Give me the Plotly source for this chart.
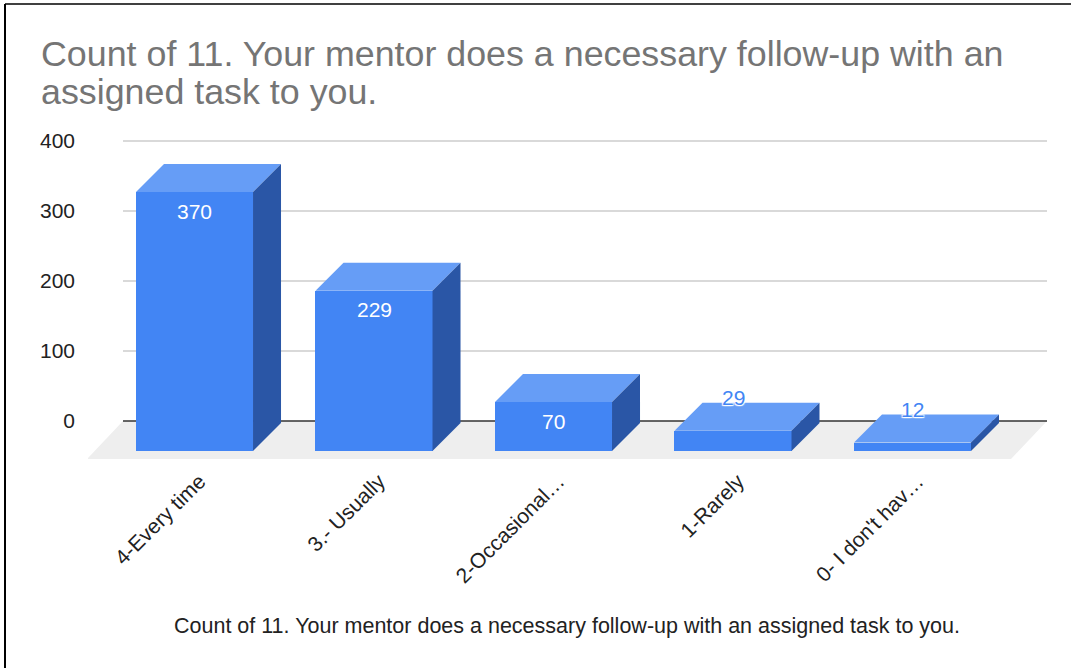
import plotly.graph_objects as go

# ---- data ----
categories = ["4-Every time", "3.- Usually", "2-Occasional…", "1-Rarely", "0- I don't hav…"]
counts = [370, 229, 70, 29, 12]
y_ticks = [0, 100, 200, 300, 400]
title_lines = ["Count of 11. Your mentor does a necessary follow-up with an",
               "assigned task to you."]
x_title = "Count of 11. Your mentor does a necessary follow-up with an assigned task to you."

# ---- geometry / style ----
W, H = 1071, 668
ML, MR, MT, MB = 88, 23, 137, 209
PX_PER_CAT = 179.5
PX_PER_UNIT = 0.7
BAR_W = 0.652
DX = 28 / PX_PER_CAT          # depth in category units
DY = 28 / PX_PER_UNIT         # depth in value units
SINK = 2 / PX_PER_UNIT        # bars sit slightly below the zero plane
FLOOR_DX = 36 / PX_PER_CAT
FLOOR_DY = 38 / PX_PER_UNIT
FONT = "Arial, Liberation Sans, sans-serif"

FRONT = "#4285F4"
TOP = "#669DF6"
SIDE = "#2A56A6"

plot_w = W - ML - MR
plot_h = H - MT - MB
x_left = -(194.5 - ML) / PX_PER_CAT
x_range = [x_left, x_left + plot_w / PX_PER_CAT]
y_bottom = -FLOOR_DY
y_range = [y_bottom, y_bottom + plot_h / PX_PER_UNIT]

xs = list(range(len(categories)))
back_left = xs[0] - (194.5 - 123) / PX_PER_CAT
back_right = xs[-1] + (1047 - 912.5) / PX_PER_CAT


def px_x(p):
    return (p - ML) / plot_w


def px_y(p):
    return (H - MB - p) / plot_h


fig = go.Figure()
fig.add_trace(go.Bar(
    x=xs, y=counts, base=[-DY - SINK] * len(counts), width=BAR_W,
    marker=dict(color=FRONT, line=dict(width=0)), hoverinfo="skip", showlegend=False,
))

shapes = []
# floor
shapes.append(dict(
    type="path", xref="x", yref="y", layer="below",
    path=f"M {back_left},0 L {back_right},0 L {back_right - FLOOR_DX},{-FLOOR_DY} L {back_left - FLOOR_DX},{-FLOOR_DY} Z",
    fillcolor="#eeeeee", line=dict(width=0),
))
# gridlines
for t in y_ticks:
    shapes.append(dict(
        type="line", xref="x", yref="y", layer="below",
        x0=back_left, x1=back_right, y0=t, y1=t,
        line=dict(color="#333333" if t == 0 else "#cccccc", width=1.5),
    ))
# bar top and side faces
for i, v in zip(xs, counts):
    x0, x1 = i - BAR_W / 2, i + BAR_W / 2
    fb, ft = -DY - SINK, v - DY - SINK      # front bottom / top
    bb, bt = -SINK, v - SINK                # back bottom / top
    shapes.append(dict(
        type="path", xref="x", yref="y", layer="above",
        path=f"M {x0},{ft} L {x1},{ft} L {x1 + DX},{bt} L {x0 + DX},{bt} Z",
        fillcolor=TOP, line=dict(width=0),
    ))
    shapes.append(dict(
        type="path", xref="x", yref="y", layer="above",
        path=f"M {x1},{fb} L {x1 + DX},{bb} L {x1 + DX},{bt} L {x1},{ft} Z",
        fillcolor=SIDE, line=dict(width=0),
    ))

# chart border (left and top)
shapes.append(dict(type="line", xref="paper", yref="paper",
                   x0=px_x(5), x1=px_x(5), y0=px_y(4), y1=px_y(H + 2),
                   line=dict(color="#000000", width=2)))
shapes.append(dict(type="line", xref="paper", yref="paper",
                   x0=px_x(5), x1=px_x(W + 2), y0=px_y(4), y1=px_y(4),
                   line=dict(color="#000000", width=1.5)))

annotations = []
halo = "1px 1px 1px #fff, -1px -1px 1px #fff, 1px -1px 1px #fff, -1px 1px 1px #fff, 0 0 2px #fff"
for i, v in zip(xs, counts):
    if v >= 50:
        annotations.append(dict(
            x=i, y=v - DY - SINK, xref="x", yref="y", text=str(v), showarrow=False,
            yanchor="middle", yshift=-19,
            font=dict(family=FONT, size=21, color="#ffffff"),
        ))
    else:
        annotations.append(dict(
            x=i, y=v - SINK, xref="x", yref="y", text=str(v), showarrow=False,
            yanchor="middle", yshift=5,
            font=dict(family=FONT, size=21, color=FRONT, shadow=halo),
        ))
# x axis title
annotations.append(dict(
    x=px_x(566.5), y=px_y(626), xref="paper", yref="paper", text=x_title, showarrow=False,
    yanchor="middle", xanchor="center",
    font=dict(family=FONT, size=21.5, color="#222222"),
))
# chart title (two lines, tight leading)
TITLE_SIZE = 35.8
for line, baseline in zip(title_lines, [66, 104]):
    annotations.append(dict(
        x=px_x(39), y=px_y(baseline - 0.3465 * TITLE_SIZE), xref="paper", yref="paper",
        text=line, showarrow=False, xanchor="left", yanchor="middle",
        font=dict(family=FONT, size=TITLE_SIZE, color="#757575"),
    ))

fig.update_layout(
    width=W, height=H,
    margin=dict(l=ML, r=MR, t=MT, b=MB, autoexpand=False),
    paper_bgcolor="#ffffff", plot_bgcolor="#ffffff",
    xaxis=dict(range=x_range, tickvals=xs, ticktext=categories, tickangle=-45,
               showgrid=False, zeroline=False, showline=False, ticks="",
               ticklabelstandoff=5, ticklabelshift=5,
               tickfont=dict(family=FONT, size=21, color="#222222")),
    yaxis=dict(range=y_range, tickvals=y_ticks, showgrid=False, zeroline=False,
               showline=False, ticks="", ticklabelstandoff=12,
               tickfont=dict(family=FONT, size=21, color="#222222")),
    shapes=shapes, annotations=annotations, bargap=0, showlegend=False,
)

fig.write_html(
    "out.html",
    config={"displayModeBar": False},
    post_script="document.body.style.margin='0';document.body.style.overflow='hidden';",
)
